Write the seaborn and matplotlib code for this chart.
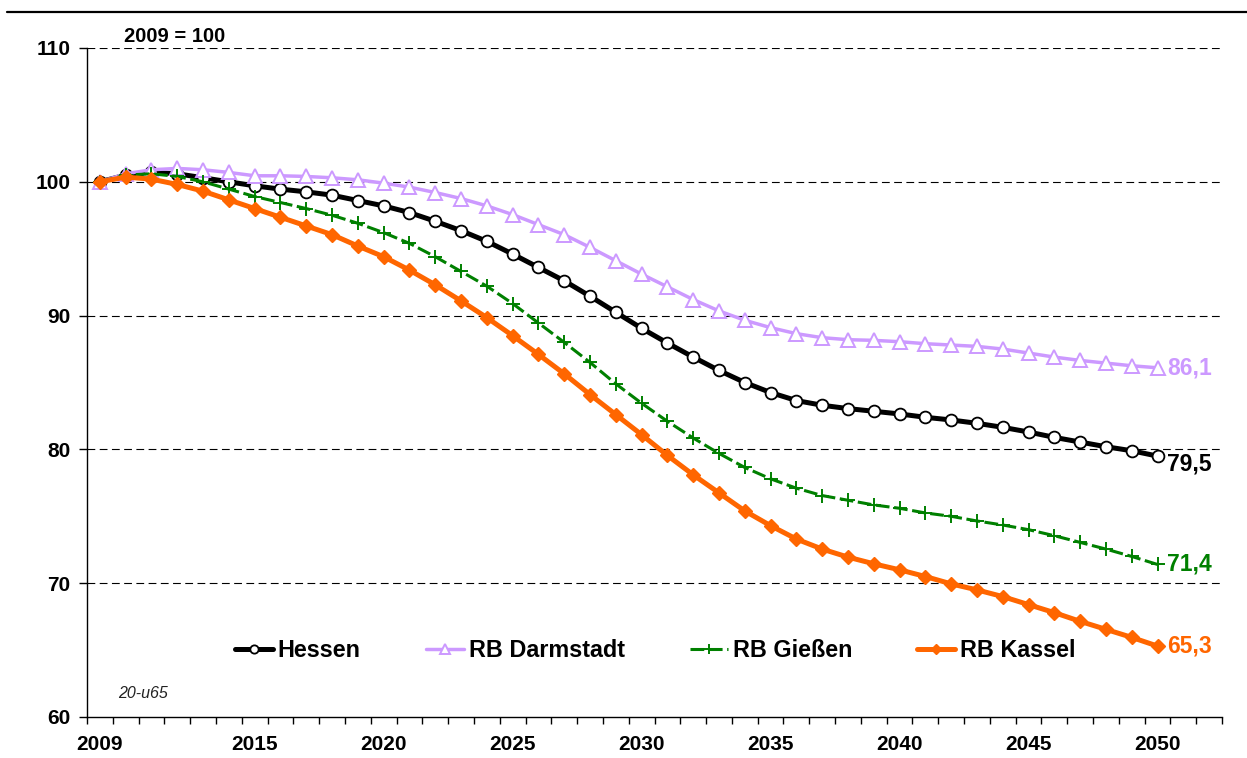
import matplotlib
matplotlib.use("Agg")
import matplotlib.pyplot as plt
import seaborn as sns
from matplotlib.lines import Line2D

# Bevölkerung 20 bis unter 65 Jahre, 2009 = 100
years = list(range(2009, 2051))

hessen = [100.0, 100.5, 100.7, 100.6, 100.3, 100.0, 99.7, 99.45, 99.25, 99.0,
          98.6, 98.2, 97.7, 97.05, 96.35, 95.55, 94.6, 93.6, 92.6, 91.45,
          90.25, 89.05, 87.95, 86.9, 85.9, 85.0, 84.25, 83.65, 83.3, 83.05,
          82.85, 82.65, 82.4, 82.2, 81.95, 81.65, 81.3, 80.9, 80.55, 80.2,
          79.9, 79.5]
darmstadt = [100.0, 100.6, 100.9, 101.0, 100.9, 100.7, 100.45, 100.45, 100.4, 100.3,
             100.15, 99.9, 99.6, 99.2, 98.75, 98.2, 97.55, 96.8, 96.05, 95.1,
             94.1, 93.1, 92.15, 91.2, 90.35, 89.65, 89.1, 88.65, 88.35, 88.2,
             88.15, 88.05, 87.9, 87.8, 87.7, 87.5, 87.2, 86.9, 86.65, 86.45,
             86.25, 86.1]
giessen = [100.0, 100.5, 100.6, 100.4, 100.0, 99.45, 98.9, 98.45, 98.0, 97.5,
           96.9, 96.2, 95.4, 94.4, 93.3, 92.2, 90.9, 89.45, 88.0, 86.5,
           84.9, 83.45, 82.1, 80.85, 79.7, 78.65, 77.8, 77.1, 76.55, 76.2,
           75.85, 75.6, 75.25, 75.0, 74.65, 74.35, 74.0, 73.55, 73.05, 72.55,
           72.0, 71.4]
kassel = [100.0, 100.35, 100.2, 99.8, 99.3, 98.65, 98.0, 97.35, 96.7, 96.05,
          95.2, 94.4, 93.4, 92.3, 91.1, 89.85, 88.5, 87.1, 85.65, 84.1,
          82.6, 81.1, 79.55, 78.1, 76.75, 75.4, 74.3, 73.3, 72.55, 71.95,
          71.45, 71.0, 70.5, 69.95, 69.5, 69.0, 68.4, 67.8, 67.15, 66.55,
          65.95, 65.3]

labels = ["Hessen", "RB Darmstadt", "RB Gießen", "RB Kassel"]
end_labels = ["79,5", "86,1", "71,4", "65,3"]
xtick_years = [2009, 2015, 2020, 2025, 2030, 2035, 2040, 2045, 2050]
yticks = [60, 70, 80, 90, 100, 110]

sns.set_style("white")
plt.rcParams["font.family"] = ["Liberation Sans", "DejaVu Sans"]
plt.rcParams["text.color"] = "black"
plt.rcParams["xtick.color"] = "black"
plt.rcParams["ytick.color"] = "black"

fig = plt.figure(figsize=(12.47, 7.58), dpi=100)
ax = fig.add_axes([87 / 1247, 1 - 717 / 758, (1222 - 87) / 1247, (717 - 48) / 758])

BLACK = "#000000"
LILA = "#CC99FF"
GREEN = "#008000"
ORANGE = "#FF6600"

sns.lineplot(x=years, y=hessen, ax=ax, color=BLACK, linewidth=3.6, marker="o",
             markersize=8.5, markerfacecolor="white", markeredgecolor=BLACK,
             markeredgewidth=1.3, label=labels[0], sort=False, zorder=3)
sns.lineplot(x=years, y=darmstadt, ax=ax, color=LILA, linewidth=2.5, marker="^",
             markersize=9.5, markerfacecolor="white", markeredgecolor=LILA,
             markeredgewidth=1.4, label=labels[1], sort=False, zorder=4)
sns.lineplot(x=years, y=giessen, ax=ax, color=GREEN, linewidth=2.2,
             linestyle=(0, (4.5, 1.5)), marker="+", markersize=10,
             markeredgecolor=GREEN, markeredgewidth=1.4, label=labels[2],
             sort=False, zorder=5)
sns.lineplot(x=years, y=kassel, ax=ax, color=ORANGE, linewidth=3.6, marker="D",
             markersize=7, markerfacecolor=ORANGE, markeredgecolor=ORANGE,
             markeredgewidth=1, label=labels[3], sort=False, zorder=6)

ax.set_xlim(2008.5, 2052.5)
ax.set_ylim(60, 110)
ax.set_yticks(yticks)
ax.set_yticklabels([str(v) for v in yticks], fontsize=15, fontweight="bold")
ax.set_xticks(xtick_years)
ax.set_xticklabels([str(y) for y in xtick_years], fontsize=15, fontweight="bold")
ax.set_xticks([2008.5 + k for k in range(45)], minor=True)
ax.tick_params(axis="x", which="major", length=0, pad=13, labelcolor=BLACK)
ax.tick_params(axis="x", which="minor", length=5, width=1, direction="out",
               color=BLACK, bottom=True)
ax.tick_params(axis="y", which="major", length=6, width=1, direction="out",
               color=BLACK, left=True, pad=6, labelcolor=BLACK)
ax.set_xlabel("")
ax.set_ylabel("")

for v in [70, 80, 90, 100, 110]:
    ax.axhline(v, color=BLACK, linewidth=0.8, linestyle=(0, (7, 4)), zorder=1)

for s in ["top", "right"]:
    ax.spines[s].set_visible(False)
for s in ["left", "bottom"]:
    ax.spines[s].set_color(BLACK)
    ax.spines[s].set_linewidth(1)

# end values
series = [hessen, darmstadt, giessen, kassel]
colors = [BLACK, LILA, GREEN, ORANGE]
offsets = [-6, 0, 0, 0]
for vals, lab, col, dy in zip(series, end_labels, colors, offsets):
    ax.annotate(lab, xy=(years[-1], vals[-1]), xytext=(7, dy),
                textcoords="offset points", va="center", ha="left",
                fontsize=16.5, fontweight="bold", color=col)

leg = ax.legend(loc="center", bbox_to_anchor=(0.5006, 0.099), ncol=4, frameon=False,
                prop={"size": 16.8, "weight": "bold"}, handlelength=1.63,
                handletextpad=0.2, columnspacing=2.8, markerscale=0.7)
for t in leg.get_texts():
    t.set_color(BLACK)

fig.text(124 / 1247, 1 - 37 / 758, "2009 = 100", fontsize=14.5, fontweight="bold",
         va="center", ha="left", color=BLACK)
fig.text(118 / 1247, 1 - 693 / 758, "20-u65", fontsize=11.5, fontstyle="italic",
         va="center", ha="left", color="#222222")

fig.add_artist(Line2D([7 / 1247, 1.0], [1 - 12 / 758, 1 - 12 / 758],
                      color=BLACK, linewidth=1.6, transform=fig.transFigure))

fig.savefig("out.png", dpi=100)
plt.close(fig)
